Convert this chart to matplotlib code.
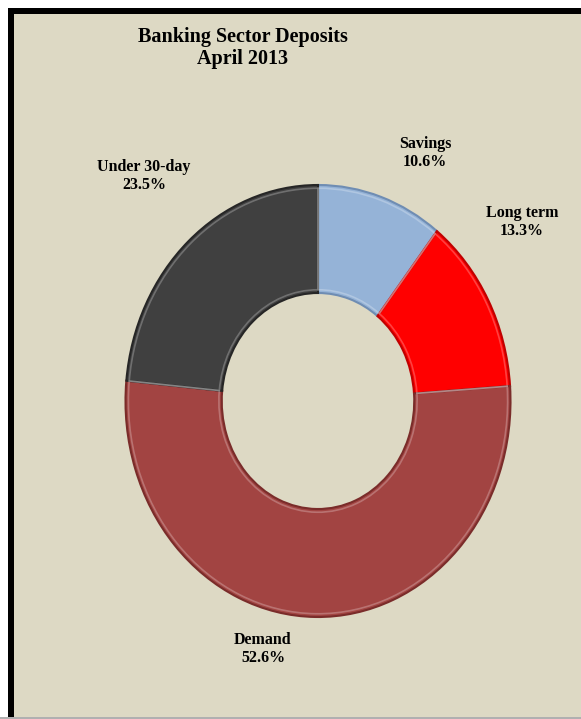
import matplotlib.pyplot as plt
from matplotlib.patches import Rectangle

# dane wykresu
categories = ['Savings', 'Long term', 'Demand', 'Under 30-day']
shares = [10.6, 13.3, 52.6, 23.5]
colors = ['#95B3D7', '#FF0000', '#A24442', '#404040']
edges = ['#6F8DB3', '#C00000', '#7A2C2A', '#262626']
title = 'Banking Sector Deposits\nApril 2013'

W, H = 581, 719
fig = plt.figure(figsize=(W / 100, H / 100), dpi=100)
fig.patch.set_facecolor('white')
plt.rcParams['font.family'] = ['Liberation Serif', 'DejaVu Serif']

# tlo i ramka
fig.add_artist(Rectangle((8 / W, 2 / H), 1 - 8 / W, 1 - 10 / H, transform=fig.transFigure,
                         facecolor='#DDD9C4', edgecolor='none', zorder=0))
fig.add_artist(Rectangle((8 / W, 1 - 14 / H), 1 - 8 / W, 6 / H, transform=fig.transFigure,
                         facecolor='black', edgecolor='none', zorder=1))
fig.add_artist(Rectangle((8 / W, 2 / H), 6 / W, 1 - 10 / H, transform=fig.transFigure,
                         facecolor='black', edgecolor='none', zorder=1))
fig.add_artist(Rectangle((0, 0), 1, 2 / H, transform=fig.transFigure,
                         facecolor='#B0B0B0', edgecolor='none', zorder=1))

# wykres pierscieniowy
cx, cy, rx, ry = 318, 401, 192.5, 216
ax = fig.add_axes([(cx - rx) / W, (H - cy - ry) / H, 2 * rx / W, 2 * ry / H])
wedges, _ = ax.pie(shares, colors=colors, startangle=90, counterclock=False,
                   radius=1.0, wedgeprops=dict(width=0.5, linewidth=1.5))
for w, ec in zip(wedges, edges):
    w.set_edgecolor(ec)
# lekki efekt wypuklosci
hl, _ = ax.pie(shares, colors=['none'] * 4, startangle=90, counterclock=False,
               radius=0.985, wedgeprops=dict(width=0.47, linewidth=1.2))
for w in hl:
    w.set_edgecolor((1, 1, 1, 0.25))
ax.set_aspect('auto')
ax.set_xlim(-1, 1)
ax.set_ylim(-1, 1)
ax.axis('off')

fig.text(243 / W, 1 - 48 / H, title, ha='center', va='center', fontsize=14.5,
         fontweight='bold', linespacing=1.15)

label_pos = {
    'Savings': (425, 153),
    'Long term': (522, 222),
    'Demand': (263, 649),
    'Under 30-day': (144, 176),
}
for cat, val in zip(categories, shares):
    x, y = label_pos[cat]
    fig.text(x / W, 1 - y / H, f'{cat}\n{val:.1f}%', ha='center', va='center',
             fontsize=11.5, fontweight='bold', linespacing=1.15)

fig.savefig('out.png', dpi=100, facecolor=fig.get_facecolor())
